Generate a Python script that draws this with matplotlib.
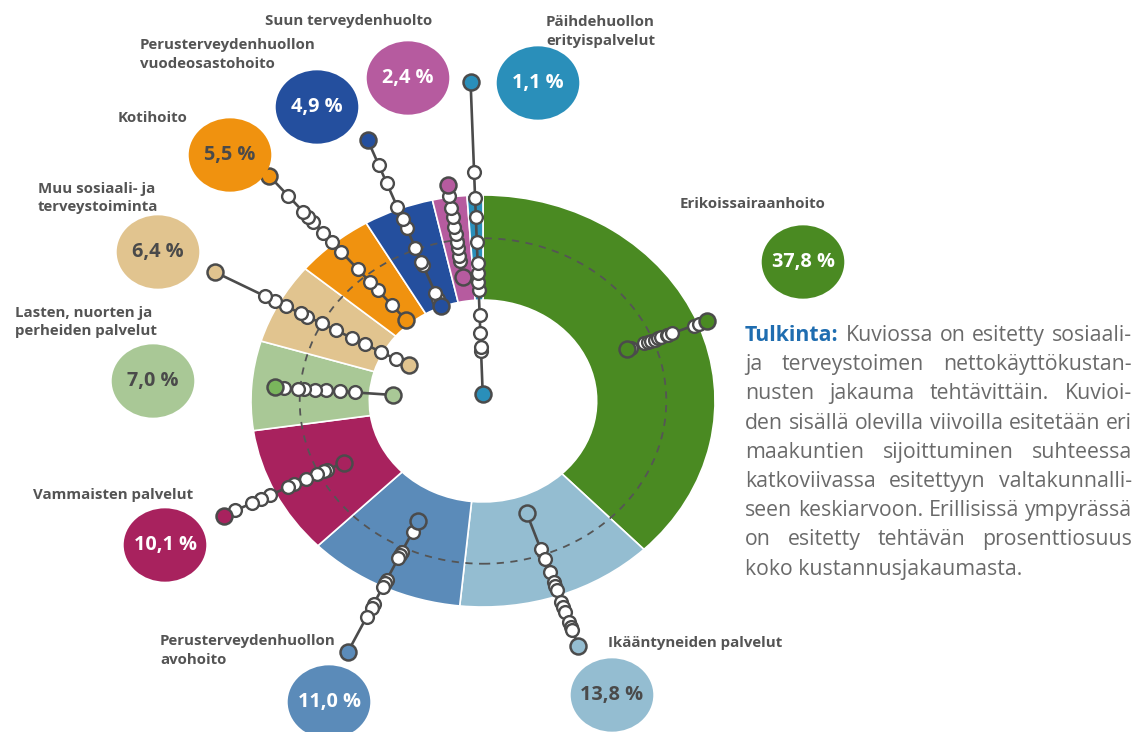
import numpy as np
import matplotlib
matplotlib.use("Agg")
import matplotlib.pyplot as plt
from matplotlib.patches import Circle

# ---------------- data ----------------
categories = ["Erikoissairaanhoito", "Ikääntyneiden palvelut",
              "Perusterveydenhuollon\navohoito", "Vammaisten palvelut",
              "Lasten, nuorten ja\nperheiden palvelut",
              "Muu sosiaali- ja\nterveystoiminta", "Kotihoito",
              "Perusterveydenhuollon\nvuodeosastohoito",
              "Suun terveydenhuolto", "Päihdehuollon\nerityispalvelut"]
shares = [37.8, 13.8, 11.0, 10.1, 7.0, 6.4, 5.5, 4.9, 2.4, 1.1]

# regional values, index: national average = 100 (dashed circle)
reg_erikoissairaanhoito = [85, 87, 95, 97, 99, 101, 103, 105, 108, 109, 111, 124, 127, 132]
reg_ikaantyneet = [73, 96, 103, 111, 118, 120, 123, 131, 134, 137, 144, 147, 149, 159]
reg_avohoito = [82, 89, 103, 105, 107, 122, 124, 127, 138, 141, 147, 171]
reg_vammaiset = [85, 95, 97, 101, 108, 115, 119, 130, 135, 141, 151, 158]
reg_lapset = [49, 70, 78, 86, 92, 98, 101, 109, 114]
reg_muu = [46, 54, 63, 73, 81, 91, 100, 109, 113, 122, 129, 135, 166]
reg_kotihoito = [65, 77, 89, 96, 106, 120, 128, 135, 144, 148, 152, 165, 181]
reg_vuodeosasto = [63, 67, 71, 90, 92, 101, 114, 120, 128, 144, 156, 172]
reg_suun = [77, 87, 90, 95, 99, 104, 108, 114, 120, 127, 134]
reg_paihde = [4, 31, 33, 42, 53, 68, 73, 79, 85, 98, 113, 125, 141, 196]
regional = [reg_erikoissairaanhoito, reg_ikaantyneet, reg_avohoito, reg_vammaiset,
            reg_lapset, reg_muu, reg_kotihoito, reg_vuodeosasto, reg_suun, reg_paihde]

para_lines = ["Tulkinta: Kuviossa on esitetty sosiaali-",
              "ja terveystoimen nettokäyttökustan-",
              "nusten jakauma tehtävittäin. Kuvioi-",
              "den sisällä olevilla viivoilla esitetään eri",
              "maakuntien sijoittuminen suhteessa",
              "katkoviivassa esitettyyn valtakunnalli-",
              "seen keskiarvoon. Erillisissä ympyrässä",
              "on esitetty tehtävän prosenttiosuus",
              "koko kustannusjakaumasta."]

# ---------------- style / layout ----------------
colors = ['#4a8a22', '#94bdd1', '#5b8bb9', '#a8225e', '#a9c896',
          '#e1c48f', '#f0920f', '#244f9e', '#b65b9f', '#2a8fba']
max_end_colors = list(colors)
max_end_colors[4] = '#7ab55c'
bubble_txt = ['white', '#4a4a4a', 'white', 'white', '#4a4a4a',
              '#4a4a4a', '#4a4a4a', 'white', 'white', 'white']
bubble_px = [(803, 262), (612, 695), (329, 702), (165, 545), (153, 381),
             (158, 252), (230, 155), (317, 107), (408, 78), (538, 83)]
label_px = [(680, 202), (608, 642), (160, 640), (33, 493), (15, 311),
            (38, 187), (118, 116), (140, 44), (265, 19), (546, 20)]

W, H = 1137, 732
CX, CY, SX, SY = 483, 401, 232, 206      # donut centre and scale in pixels
AVG_R = 0.79                             # radius of national average
INNER_W = 0.51
LAB_FONT = "Open Sans"
BODY_FONT = "Open Sans"
LAB_COL = '#545454'
LINE_COL = '#4b4b4b'


def px2data(px, py):
    return (px - CX) / SX, (CY - py) / SY


def px2fig(px, py):
    return px / W, 1 - py / H


fig = plt.figure(figsize=(W / 100, H / 100), dpi=100)
ax = fig.add_axes([0, 0, 1, 1])
renderer = fig.canvas.get_renderer()


def text_width(s, size, weight, family):
    t = fig.text(0, 0, s, fontsize=size, fontweight=weight, family=family)
    w = t.get_window_extent(renderer).width
    t.remove()
    return w


def fit_size(s, target, weight, family):
    return 10 * target / text_width(s, 10, weight, family)


# donut
ax.pie(shares, colors=colors, startangle=90, counterclock=False, radius=1.0,
       wedgeprops=dict(width=INNER_W, edgecolor='white', linewidth=1.2))
ax.set_aspect('auto')
ax.set_xlim(-CX / SX, (W - CX) / SX)
ax.set_ylim(-(H - CY) / SY, CY / SY)
ax.axis('off')

# national average dashed circle
ax.add_patch(Circle((0, 0), AVG_R, fill=False, ls=(0, (4, 3.6)), ec='#555555',
                    lw=1.3, zorder=3))

# regional lines
cum = np.concatenate([[0], np.cumsum(shares)])
for i, vals in enumerate(regional):
    mid = np.radians(90 - 3.6 * (cum[i] + shares[i] / 2))
    r = np.sort(np.array(vals, dtype=float)) * AVG_R / 100
    x, y = r * np.cos(mid), r * np.sin(mid)
    ax.plot([x[0], x[-1]], [y[0], y[-1]], color=LINE_COL, lw=1.9, zorder=4,
            solid_capstyle='round')
    ax.plot(x[1:-1], y[1:-1], 'o', ms=9.2, mfc='white', mec=LINE_COL, mew=1.7, zorder=5)
    ax.plot(x[0], y[0], 'o', ms=11.5, mfc=colors[i], mec=LINE_COL, mew=1.8, zorder=5)
    ax.plot(x[-1], y[-1], 'o', ms=11.5, mfc=max_end_colors[i], mec=LINE_COL, mew=1.8, zorder=5)

# bubbles
bub_fs = fit_size("37,8 %", 63, 'bold', LAB_FONT)
for i, s in enumerate(shares):
    bx, by = px2data(*bubble_px[i])
    ax.add_patch(Circle((bx, by), 0.178, fc=colors[i], ec='none', zorder=6))
    ax.text(bx, by, f"{s:.1f} %".replace('.', ','), ha='center', va='center',
            fontsize=bub_fs, fontweight='bold', color=bubble_txt[i],
            family=LAB_FONT, zorder=7)

# category labels
lab_fs = fit_size("Perusterveydenhuollon", 176, 'bold', LAB_FONT)
for i, name in enumerate(categories):
    lx, ly = label_px[i]
    for j, line in enumerate(name.split('\n')):
        fx, fy = px2fig(lx, ly + 19 * j)
        fig.text(fx, fy, line, ha='left', va='center_baseline', fontsize=lab_fs,
                 fontweight='bold', color=LAB_COL, family=LAB_FONT)

# explanatory paragraph (justified)
body_fs = fit_size("koko kustannusjakaumasta.", 276, 'normal', BODY_FONT)
X0, X1 = 745, 1132
for li, line in enumerate(para_lines):
    ypx = 333 + 29.2 * li
    _, fy = px2fig(0, ypx)
    if li == len(para_lines) - 1:
        fig.text(X0 / W, fy, line, ha='left', va='center_baseline', fontsize=body_fs,
                 color='#6a6a6a', family=BODY_FONT)
        continue
    words = line.split(' ')
    objs = []
    for wi, wd in enumerate(words):
        bold = (li == 0 and wi == 0)
        t = fig.text(0, fy, wd, ha='left', va='center_baseline', fontsize=body_fs,
                     fontweight='bold' if bold else 'normal',
                     color='#1f6db0' if bold else '#6a6a6a', family=BODY_FONT)
        objs.append(t)
    widths = [t.get_window_extent(renderer).width for t in objs]
    gap = (X1 - X0 - sum(widths)) / (len(words) - 1)
    xp = X0
    for t, w in zip(objs, widths):
        t.set_x(xp / W)
        xp += w + gap

fig.savefig("out.png", dpi=100)
